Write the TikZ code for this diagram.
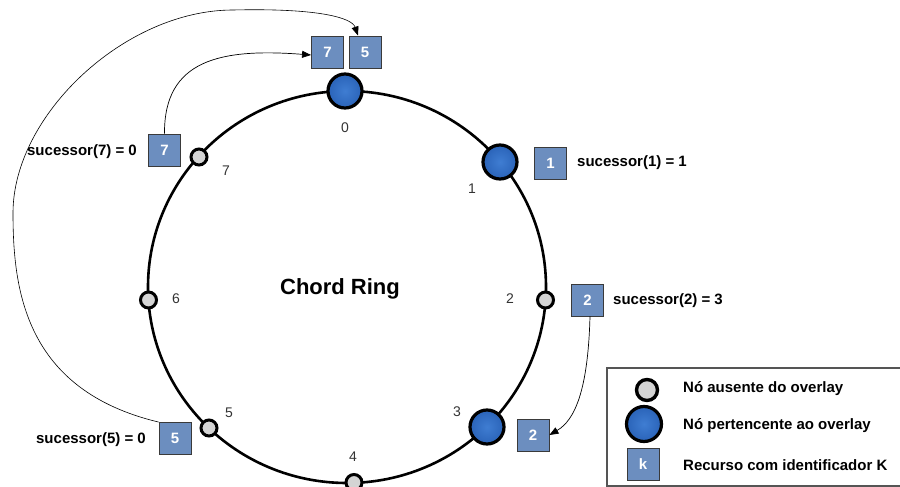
\documentclass[tikz,border=0pt]{standalone}
\usepackage{fontspec}
\setmainfont{Liberation Sans}
\usetikzlibrary{arrows.meta}

\definecolor{nodeblue}{HTML}{2A63B8}
\definecolor{nodebluelight}{HTML}{3F7DD2}
\definecolor{resfill}{HTML}{6C8EBF}
\definecolor{resdraw}{HTML}{3A3A3A}
\definecolor{absentfill}{HTML}{D4D4D4}
\definecolor{labelgray}{HTML}{333333}
\definecolor{legendframe}{HTML}{555555}

\begin{document}
\begin{tikzpicture}[x=1pt,y=-1pt,
  member/.style={circle, draw=black, line width=3.2pt, minimum size=34pt, inner sep=0pt,
                 inner color=nodebluelight, outer color=nodeblue},
  absent/.style={circle, draw=black, line width=3pt, minimum size=16pt, inner sep=0pt, fill=absentfill},
  resource/.style={rectangle, draw=resdraw, line width=0.9pt, fill=resfill, minimum size=32pt,
                   inner sep=0pt, text=white, font=\fontsize{15}{18}\selectfont\bfseries},
  idlabel/.style={text=labelgray, font=\fontsize{14}{16}\selectfont, inner sep=0pt},
  succ/.style={font=\fontsize{15}{18}\selectfont\bfseries, inner sep=0pt},
  link/.style={line width=0.7pt, -{Triangle[length=9pt,width=7pt]}},
]
\useasboundingbox (0,0) rectangle (900,487);

% the ring
\draw[line width=2.6pt] (347,287) ellipse [x radius=199pt, y radius=196pt];

% identifiers on the ring
\node[member] (n0) at (345,91) {};
\node[member] (n1) at (500,162) {};
\node[absent] (n2) at (545.5,300) {};
\node[member] (n3) at (487,427) {};
\node[absent] (n4) at (354,482.5) {};
\node[absent] (n5) at (209,428) {};
\node[absent] (n6) at (148.5,300) {};
\node[absent] (n7) at (199,157) {};

\node[idlabel] (l0) at (345,128) {0};
\node[idlabel] (l1) at (472,189) {1};
\node[idlabel] (l2) at (510,299) {2};
\node[idlabel] (l3) at (457,412) {3};
\node[idlabel] (l4) at (353,457) {4};
\node[idlabel] (l5) at (229,413) {5};
\node[idlabel] (l6) at (176,299) {6};
\node[idlabel] (l7) at (226,171) {7};

\node[font=\fontsize{22}{26}\selectfont\bfseries] (title) at (340,289) {Chord Ring};

% resources
\node[resource] (r7top) at (327.5,52) {7};
\node[resource] (r5top) at (365,52) {5};
\node[resource] (r1) at (550.5,163) {1};
\node[resource] (r2) at (587.5,300) {2};
\node[resource] (r2at3) at (533,435) {2};
\node[resource] (r7) at (164.5,150) {7};
\node[resource] (r5) at (175,438.5) {5};

% successor labels
\node[succ, anchor=west] (s1) at (577,163) {sucessor(1) = 1};
\node[succ, anchor=west] (s2) at (613,301) {sucessor(2) = 3};
\node[succ, anchor=east] (s7) at (137,152) {sucessor(7) = 0};
\node[succ, anchor=east] (s5) at (146,440) {sucessor(5) = 0};

% resource hand-over
\draw[link] (r7.north) .. controls (164,60) and (220,48) .. ([yshift=-3pt]r7top.west);
\draw[link, line width=0.6pt] (r5.north west) .. controls (25,390) and (13,290) .. (13,213)
  .. controls (13,115) and (125,10) .. (233,10)
  .. controls (320,8) and (352,18) .. ([xshift=-7pt]r5top.north);
\draw[link] ([xshift=2.5pt]r2.south) .. controls (588,390) and (575,420) .. (r2at3.east);

% legend
\draw[legendframe, line width=1.2pt] (607,368) rectangle (915,486);
\node[absent, minimum size=21pt, line width=3.4pt] (kabsent) at (647,390) {};
\node[member, minimum size=35pt] (kmember) at (644,424) {};
\node[resource] (kres) at (643,464) {k};
\node[succ, anchor=west] (tabsent) at (683,389) {Nó ausente do overlay};
\node[succ, anchor=west] (tmember) at (683,426) {Nó pertencente ao overlay};
\node[succ, anchor=west] (tres) at (683,465) {Recurso com identificador K};
\end{tikzpicture}
\end{document}
